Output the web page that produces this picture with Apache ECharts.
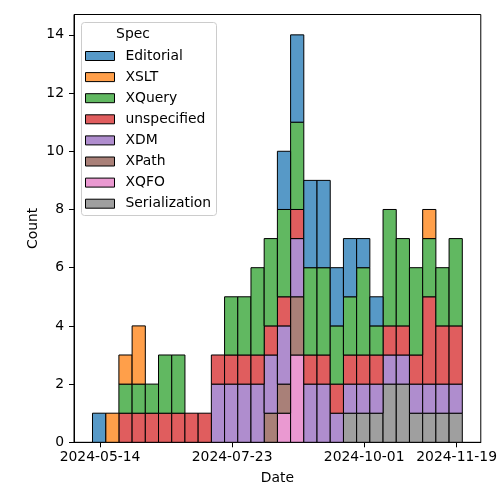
<!DOCTYPE html>
<html><head><meta charset="utf-8">
<script src="https://cdn.jsdelivr.net/npm/echarts@6/dist/echarts.min.js"></script>
<style>html,body{margin:0;padding:0;background:#fff}#c{width:500px;height:500px}</style>
</head><body><div id="c"></div>
<script>
// Weekly bin start dates (each bin 7 days)
const binStarts = ['2024-05-10','2024-05-17','2024-05-24','2024-05-31','2024-06-07','2024-06-14','2024-06-21','2024-06-28','2024-07-05','2024-07-12','2024-07-19','2024-07-26','2024-08-02','2024-08-09','2024-08-16','2024-08-23','2024-08-30','2024-09-06','2024-09-13','2024-09-20','2024-09-27','2024-10-04','2024-10-11','2024-10-18','2024-10-25','2024-11-01','2024-11-08','2024-11-15'];
const binEndLast = '2024-11-22';
const xTickLabels = ['2024-05-14','2024-07-23','2024-10-01','2024-11-19'];
const yTicks = [0,2,4,6,8,10,12,14];

const editorial     = [1,0,0,0,0,0,0,0,0,0,0,0,0,0,2,3,3,3,2,2,1,1,0,0,0,0,0,0];
const xslt          = [0,1,1,2,0,0,0,0,0,0,0,0,0,0,0,0,0,0,0,0,0,0,0,0,0,1,0,0];
const xquery        = [0,0,1,1,1,2,2,0,0,0,2,2,3,3,3,3,3,3,2,2,3,1,4,3,3,2,2,3];
const unspecified   = [0,0,1,1,1,1,1,1,1,1,1,1,1,1,1,1,1,1,1,1,1,1,1,1,1,3,2,2];
const xdm           = [0,0,0,0,0,0,0,0,0,2,2,2,2,2,2,2,2,2,1,1,1,1,1,1,1,1,1,1];
const xpath         = [0,0,0,0,0,0,0,0,0,0,0,0,0,1,1,2,0,0,0,0,0,0,0,0,0,0,0,0];
const xqfo          = [0,0,0,0,0,0,0,0,0,0,0,0,0,0,1,3,0,0,0,0,0,0,0,0,0,0,0,0];
const serialization = [0,0,0,0,0,0,0,0,0,0,0,0,0,0,0,0,0,0,0,1,1,1,2,2,1,1,1,1];

const specNames = ['Editorial','XSLT','XQuery','unspecified','XDM','XPath','XQFO','Serialization'];
const specColors = ['#5799c7','#ff9f4a','#61b861','#e05d5e','#af8dce','#a98078','#ea99d1','#9f9f9f'];
const specValues = [editorial,xslt,xquery,unspecified,xdm,xpath,xqfo,serialization];

const DAY = 86400000;
function d(s){const p=s.split('-').map(Number);return Date.UTC(p[0],p[1]-1,p[2])/DAY;}
const edges = binStarts.map(d).concat([d(binEndLast)]);
const span = edges[edges.length-1]-edges[0];
const xMin = edges[0]-span*0.05, xMax = edges[edges.length-1]+span*0.05;

// stacking bottom-up: Serialization first
const stackOrder = specNames.map((n,i)=>i).reverse();
const base = binStarts.map(()=>0);
const series = [];
stackOrder.forEach(si=>{
  const data=[];
  specValues[si].forEach((v,b)=>{
    if(v>0){data.push([edges[b],edges[b+1],base[b],base[b]+v]);}
    base[b]+=v;
  });
  series.push({
    name: specNames[si], type:'custom',
    itemStyle:{color:specColors[si],borderColor:'#000',borderWidth:1},
    encode:{x:[0,1],y:[2,3]},
    data,
    renderItem:(params,api)=>{
      const p0=api.coord([api.value(0),api.value(3)]);
      const p1=api.coord([api.value(1),api.value(2)]);
      return {type:'rect',shape:{x:p0[0],y:p0[1],width:p1[0]-p0[0],height:p1[1]-p0[1]},
        style:{fill:api.visual('color'),stroke:'#000',lineWidth:1}};
    }
  });
});

function fmt(v){const t=new Date(Math.round(v)*DAY);const p=n=>String(n).padStart(2,'0');return t.getUTCFullYear()+'-'+p(t.getUTCMonth()+1)+'-'+p(t.getUTCDate());}
const font='DejaVu Sans';
const chart=echarts.init(document.getElementById('c'),null,{renderer:'canvas'});
chart.setOption({
  animation:false,
  textStyle:{fontFamily:font},
  grid:{left:74,right:15,top:14.5,bottom:57.7,show:true,borderColor:'#000',borderWidth:1,backgroundColor:'transparent'},
  xAxis:{type:'value',min:xMin,max:xMax,scale:true,name:'Date',nameLocation:'middle',nameGap:29,nameMoveOverlap:false,
    nameTextStyle:{fontFamily:font,fontSize:13.9,color:'#000'},
    axisLine:{show:true,onZero:false,lineStyle:{color:'#000'}},
    axisTick:{show:true,length:5,lineStyle:{color:'#000'},customValues:xTickLabels.map(d)},
    axisLabel:{fontFamily:font,fontSize:13.9,color:'#000',margin:8,customValues:xTickLabels.map(d),formatter:fmt},
    splitLine:{show:false}},
  yAxis:{type:'value',min:0,max:14*1.05,name:'Count',nameLocation:'middle',nameGap:34,nameMoveOverlap:false,
    nameTextStyle:{fontFamily:font,fontSize:13.9,color:'#000'},
    axisLine:{show:true,lineStyle:{color:'#000'}},
    axisTick:{show:true,length:5,lineStyle:{color:'#000'},customValues:yTicks},
    axisLabel:{fontFamily:font,fontSize:13.9,color:'#000',margin:10,customValues:yTicks},
    splitLine:{show:false}},
  legend:{orient:'vertical',left:85,top:48,padding:0,itemWidth:29,itemHeight:9,itemGap:5.1,icon:'rect',
    data:specNames,
    textStyle:{fontFamily:font,fontSize:13.9,color:'#000',lineHeight:16,padding:[0,0,0,6]},
    itemStyle:{borderColor:'#000',borderWidth:1}},
  graphic:[
    {type:'rect',left:81,top:22,z:-1,shape:{width:135,height:193,r:3},style:{fill:'rgba(255,255,255,0.8)',stroke:'#cccccc',lineWidth:1}},
    {type:'text',style:{text:'Spec',x:133,y:34.5,align:'center',verticalAlign:'middle',fontFamily:font,fontSize:13.9,fill:'#000'}}
  ],
  series
});
</script></body></html>
